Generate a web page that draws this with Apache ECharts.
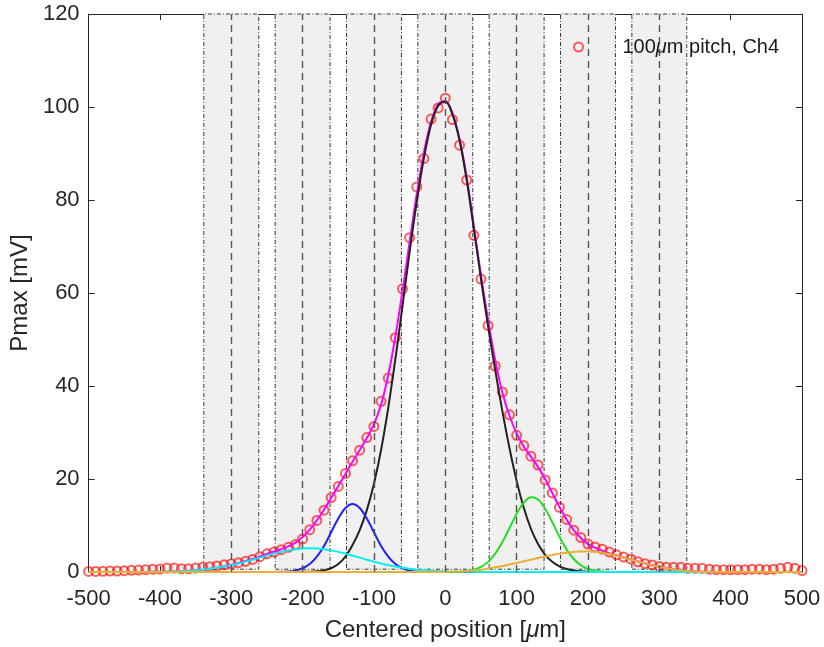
<!DOCTYPE html>
<html>
<head>
<meta charset="utf-8">
<title>Pmax vs centered position</title>
<script src="https://cdn.jsdelivr.net/npm/echarts@6/dist/echarts.min.js"></script>
<style>
  html, body { margin: 0; padding: 0; background: #ffffff; }
  #chart { width: 824px; height: 647px; }
</style>
</head>
<body>
<div id="chart"></div>
<script>
// Scan positions [um], one measurement every 10 um
const positions = [
  -500,-490,-480,-470,-460,-450,-440,-430,-420,-410,
  -400,-390,-380,-370,-360,-350,-340,-330,-320,-310,
  -300,-290,-280,-270,-260,-250,-240,-230,-220,-210,
  -200,-190,-180,-170,-160,-150,-140,-130,-120,-110,
  -100,-90,-80,-70,-60,-50,-40,-30,-20,-10,
  0,10,20,30,40,50,60,70,80,90,
  100,110,120,130,140,150,160,170,180,190,
  200,210,220,230,240,250,260,270,280,290,
  300,310,320,330,340,350,360,370,380,390,
  400,410,420,430,440,450,460,470,480,490,
  500
];

// Measured Pmax [mV], 100um pitch, channel 4
const pmaxCh4 = [
  0.13,0.13,0.15,0.2,0.2,0.28,0.35,0.42,0.5,0.57,
  0.64,0.85,0.85,0.7,0.7,0.85,1.0,1.15,1.3,1.55,
  1.75,2.0,2.3,2.7,3.3,3.9,4.3,4.8,5.3,5.9,
  7.1,9.1,11.1,13.3,16.0,18.4,21.2,23.9,26.2,28.9,
  31.3,36.7,41.7,50.4,60.9,71.9,82.8,88.9,97.4,99.8,
  101.9,97.3,91.8,84.3,72.4,63.0,53.0,44.3,38.7,33.8,
  29.4,27.2,24.9,23.0,19.8,17.0,13.9,11.3,9.0,7.4,
  6.0,5.4,4.9,4.3,3.7,3.2,2.8,2.2,1.8,1.5,
  1.2,1.0,1.0,1.0,0.8,0.8,0.8,0.6,0.5,0.5,
  0.5,0.5,0.5,0.6,0.6,0.5,0.6,0.8,1.0,0.8,
  0.3
];

// Total fit (sum of all components), same grid as the measurement
const fitTotal = [
  0,0,0,0,0,0.01,0.01,0.02,0.03,0.05,
  0.07,0.09,0.13,0.19,0.27,0.37,0.51,0.69,0.91,1.17,
  1.5,1.9,2.35,2.8,3.3,3.9,4.4,4.9,5.5,6.3,
  7.5,9.1,11.1,13.4,15.9,18.5,21.1,23.7,26.2,28.8,
  31.8,36.0,42.3,50.6,60.4,71.0,81.3,90.2,96.8,100.6,
  101.3,98.7,93.1,84.8,74.4,63.9,54.2,45.5,38.6,33.6,
  29.8,27.0,24.8,22.6,20.0,17.0,14.0,11.3,9.0,7.3,
  6.0,5.2,4.6,4.0,3.55,3.1,2.7,2.25,1.85,1.45,
  1.1,0.8,0.55,0.35,0.22,0.13,0.07,0.04,0.02,0,
  0,0,0,0,0,0,0,0,0,0,
  0
];

// Broad left component (cyan), same grid
const fitLeftWide = [
  0,0,0,0,0,0.01,0.01,0.02,0.03,0.05,
  0.07,0.09,0.13,0.19,0.27,0.37,0.51,0.69,0.91,1.17,
  1.48,1.84,2.23,2.65,3.09,3.53,3.95,4.33,4.65,4.9,
  5.05,5.1,5.05,4.9,4.65,4.33,3.95,3.53,3.09,2.65,
  2.23,1.84,1.48,1.17,0.91,0.69,0.51,0.37,0.27,0.19,
  0.13,0.09,0.06,0.04,0.03,0.02,0.01,0.01,0,0,
  0,0,0,0,0,0,0,0,0,0,
  0,0,0,0,0,0,0,0,0,0,
  0,0,0,0,0,0,0,0,0,0,
  0,0,0,0,0,0,0,0,0,0,
  0
];

// Broad right component (orange), same grid
const fitRightWide = [
  0,0,0,0,0,0,0,0,0,0,
  0,0,0,0,0,0,0,0,0,0,
  0,0,0,0,0,0,0,0,0,0,
  0,0,0,0,0,0,0,0,0,0,
  0,0,0,0,0,0,0,0,0,0,
  0,0.05,0.1,0.2,0.35,0.5,0.75,1.0,1.3,1.6,
  1.95,2.3,2.65,3.0,3.35,3.65,3.95,4.15,4.3,4.4,
  4.4,4.35,4.15,3.85,3.5,3.1,2.7,2.25,1.85,1.45,
  1.1,0.8,0.55,0.35,0.22,0.13,0.07,0.04,0.02,0,
  0,0,0,0,0,0,0,0,0,0,
  0
];

// Central strip component (black), -200 .. 200 um
const centralX = [
  -200,-190,-180,-170,-160,-150,-140,-130,-120,-110,
  -100,-90,-80,-70,-60,-50,-40,-30,-20,-10,
  0,10,20,30,40,50,60,70,80,90,
  100,110,120,130,140,150,160,170,180,190,200
];
const fitCentral = [
  0.03,0.06,0.15,0.35,0.8,1.7,3.3,5.8,9.0,13.3,
  19.0,26.3,35.3,45.8,57.2,68.8,79.6,89.0,96.2,100.3,
  101.2,98.4,92.8,84.3,73.8,63.0,52.8,43.4,34.6,26.6,
  19.6,13.8,9.3,6.0,3.7,2.2,1.2,0.65,0.33,0.16,0.07
];

// Left neighbour strip component (blue), -240 .. -20 um
const leftX = [
  -240,-230,-220,-210,-200,-190,-180,-170,-160,-150,
  -140,-130,-120,-110,-100,-90,-80,-70,-60,-50,
  -40,-30,-20
];
const fitLeft = [
  0,0.03,0.1,0.3,0.8,1.7,3.3,5.6,8.55,11.5,
  13.75,14.6,13.75,11.5,8.55,5.6,3.3,1.7,0.8,0.3,
  0.1,0.03,0
];

// Right neighbour strip component (green), 20 .. 230 um
const rightX = [
  20,30,40,50,60,70,80,90,100,110,
  120,130,140,150,160,170,180,190,200,210,
  220,230
];
const fitRight = [
  0.07,0.2,0.49,1.09,2.18,3.94,6.43,9.45,12.5,14.9,
  16.07,15.6,13.6,10.7,7.6,4.85,2.8,1.45,0.68,0.29,
  0.11,0.04
];

// Strip layout: centres of the strips [um] and half width of a strip [um]
const stripCentres = [-300, -200, -100, 0, 100, 200, 300];
const stripHalfWidth = 38.5;
const stripBottom = 0.6;
const stripTop = 120.4;

// Axis ticks
const xTicks = { min: -500, max: 500, step: 100 };
const yTicks = { min: 0, max: 120, step: 20 };

const legendName = '100μm pitch, Ch4';

function pairs(xs, ys) {
  return xs.map((x, i) => [x, ys[i]]);
}

const axisColor = '#262626';
const fontFamily = 'Liberation Sans, Arial, Helvetica, sans-serif';
const tickFont = 22;
const labelFont = 24;
const legendFont = 20;
const markerRed = 'rgba(255,0,0,0.8)';

const chart = echarts.init(document.getElementById('chart'), null, { renderer: 'canvas' });

function fitLine(name, xs, ys, color, width) {
  return {
    name: name,
    type: 'line',
    data: pairs(xs, ys),
    showSymbol: false,
    symbol: 'none',
    smooth: 0.35,
    lineStyle: { color: color, width: width },
    z: 3,
    silent: true,
    animation: false
  };
}

function frameAxis(extra) {
  return Object.assign({
    type: 'value',
    axisLine: { show: true, onZero: false, lineStyle: { color: axisColor, width: 1 } },
    axisTick: { show: true, inside: true, length: 6, lineStyle: { color: axisColor } },
    splitLine: { show: false }
  }, extra);
}

const option = {
  backgroundColor: '#ffffff',
  animation: false,
  textStyle: { fontFamily: fontFamily },
  grid: { left: 87, right: 22, top: 14, bottom: 69, containLabel: false },
  legend: {
    show: true,
    left: 573,
    top: 37,
    padding: 0,
    itemWidth: 78,
    itemHeight: 9,
    itemGap: 0,
    selectedMode: false,
    data: [{
      name: legendName,
      icon: 'circle',
      itemStyle: { color: 'rgba(0,0,0,0)', borderColor: markerRed, borderWidth: 2 }
    }],
    formatter: function () { return '100{mu|μ}m pitch, Ch4'; },
    textStyle: {
      color: '#1a1a1a',
      fontSize: legendFont,
      fontFamily: fontFamily,
      rich: { mu: { fontStyle: 'italic', fontSize: legendFont, color: '#1a1a1a', fontFamily: fontFamily } }
    }
  },
  xAxis: [
    frameAxis({
      position: 'bottom',
      min: xTicks.min, max: xTicks.max, interval: xTicks.step,
      axisLabel: { color: axisColor, fontSize: tickFont, margin: 16, fontFamily: fontFamily },
      name: 'Centered position [{mu|μ}m]',
      nameLocation: 'middle',
      nameGap: 46,
      nameTextStyle: {
        color: axisColor, fontSize: labelFont, fontFamily: fontFamily,
        rich: { mu: { fontStyle: 'italic', fontSize: labelFont, color: axisColor, fontFamily: fontFamily } }
      }
    }),
    frameAxis({
      position: 'top',
      min: xTicks.min, max: xTicks.max, interval: xTicks.step,
      axisLabel: { show: false }
    })
  ],
  yAxis: [
    frameAxis({
      position: 'left',
      min: yTicks.min, max: yTicks.max, interval: yTicks.step,
      axisLabel: { color: axisColor, fontSize: tickFont, margin: 9, fontFamily: fontFamily },
      name: 'Pmax [mV]',
      nameLocation: 'middle',
      nameGap: 53,
      nameTextStyle: { color: axisColor, fontSize: labelFont, fontFamily: fontFamily }
    }),
    frameAxis({
      position: 'right',
      min: yTicks.min, max: yTicks.max, interval: yTicks.step,
      axisLabel: { show: false }
    })
  ],
  series: [
    {
      // strip footprints: shaded areas with dash-dot borders, dashed strip centres
      name: 'strips',
      type: 'line',
      data: [],
      silent: true,
      z: 1,
      markArea: {
        silent: true,
        itemStyle: {
          color: '#f0f0f0',
          borderColor: '#333333',
          borderWidth: 1,
          borderType: [4, 2, 1, 2]
        },
        data: stripCentres.map(c => [
          { xAxis: c - stripHalfWidth, yAxis: stripBottom },
          { xAxis: c + stripHalfWidth, yAxis: stripTop }
        ])
      },
      markLine: {
        silent: true,
        symbol: ['none', 'none'],
        label: { show: false },
        lineStyle: { color: '#555555', width: 1.4, type: [7, 5] },
        data: stripCentres.map(c => ({ xAxis: c }))
      }
    },
    {
      name: legendName,
      type: 'scatter',
      data: pairs(positions, pmaxCh4),
      symbol: 'circle',
      symbolSize: 9,
      itemStyle: { color: 'rgba(0,0,0,0)', borderColor: markerRed, borderWidth: 2 },
      z: 2,
      silent: true
    },
    fitLine('total', positions, fitTotal, '#ff00ff', 2),
    fitLine('central', centralX, fitCentral, '#222222', 2),
    fitLine('left', leftX, fitLeft, '#1f1fff', 2),
    fitLine('right', rightX, fitRight, '#22dd22', 2),
    fitLine('leftWide', positions, fitLeftWide, '#00f0f0', 2),
    fitLine('rightWide', positions, fitRightWide, '#e8b030', 2)
  ]
};

chart.setOption(option);
</script>
</body>
</html>
